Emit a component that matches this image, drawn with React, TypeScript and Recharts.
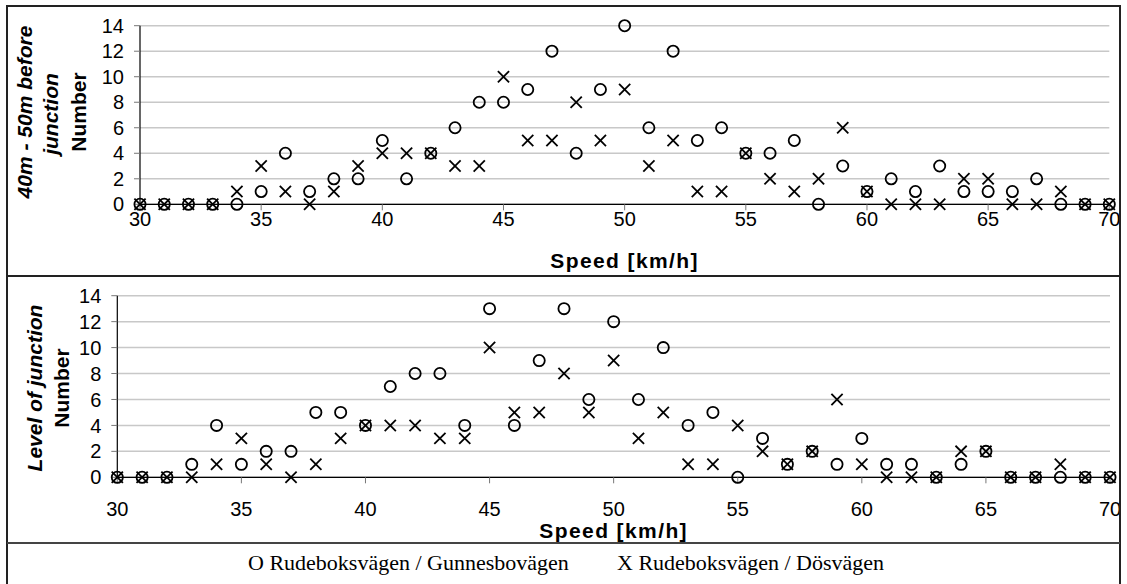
import { ScatterChart, Scatter, XAxis, YAxis, CartesianGrid } from "recharts"

const speeds = [
  30, 31, 32, 33, 34, 35, 36, 37, 38, 39, 40, 41, 42, 43, 44, 45, 46, 47, 48, 49, 50,
  51, 52, 53, 54, 55, 56, 57, 58, 59, 60, 61, 62, 63, 64, 65, 66, 67, 68, 69, 70,
]
const speedTicks = [30, 35, 40, 45, 50, 55, 60, 65, 70]
const countTicks = [0, 2, 4, 6, 8, 10, 12, 14]

// 40m - 50m before junction
const beforeGunnesbo = [
  0, 0, 0, 0, 0, 1, 4, 1, 2, 2, 5, 2, 4, 6, 8, 8, 9, 12, 4, 9, 14,
  6, 12, 5, 6, 4, 4, 5, 0, 3, 1, 2, 1, 3, 1, 1, 1, 2, 0, 0, 0,
]
const beforeDos = [
  0, 0, 0, 0, 1, 3, 1, 0, 1, 3, 4, 4, 4, 3, 3, 10, 5, 5, 8, 5, 9,
  3, 5, 1, 1, 4, 2, 1, 2, 6, 1, 0, 0, 0, 2, 2, 0, 0, 1, 0, 0,
]

// level of junction
const levelGunnesbo = [
  0, 0, 0, 1, 4, 1, 2, 2, 5, 5, 4, 7, 8, 8, 4, 13, 4, 9, 13, 6, 12,
  6, 10, 4, 5, 0, 3, 1, 2, 1, 3, 1, 1, 0, 1, 2, 0, 0, 0, 0, 0,
]
const levelDos = [
  0, 0, 0, 0, 1, 3, 1, 0, 1, 3, 4, 4, 4, 3, 3, 10, 5, 5, 8, 5, 9,
  3, 5, 1, 1, 4, 2, 1, 2, 6, 1, 0, 0, 0, 2, 2, 0, 0, 1, 0, 0,
]

const toPoints = (counts: number[]) => speeds.map((speed, i) => ({ speed, count: counts[i] }))

const sans = "'Liberation Sans', Arial, sans-serif"
const serif = "'Liberation Serif', 'Times New Roman', serif"

const tickStyle = { fill: "#000", fontSize: 20, fontFamily: sans }

function RingMark(props: any) {
  const { cx, cy } = props
  return <circle cx={cx} cy={cy} r={5.6} fill="none" stroke="#000" strokeWidth={1.8} />
}

function CrossMark(props: any) {
  const { cx, cy } = props
  const s = 5.6
  return (
    <g stroke="#000" strokeWidth={1.8}>
      <line x1={cx - s} y1={cy - s} x2={cx + s} y2={cy + s} />
      <line x1={cx - s} y1={cy + s} x2={cx + s} y2={cy - s} />
    </g>
  )
}

type PanelProps = {
  top: number
  height: number
  margin: { top: number; right: number; bottom: number; left: number }
  circles: number[]
  crosses: number[]
  xTickMargin: number
}

// axis band sizes; margins below are given for the plot edges and reduced by these
const Y_AXIS_W = 60
const X_AXIS_H = 30

function Panel({ top, height, margin, circles, crosses, xTickMargin }: PanelProps) {
  const m = {
    top: margin.top,
    right: margin.right,
    bottom: margin.bottom - X_AXIS_H,
    left: margin.left - Y_AXIS_W,
  }
  return (
    <div style={{ position: "absolute", left: 0, top }}>
      <ScatterChart width={1127} height={height} margin={m}>
        <CartesianGrid vertical={false} stroke="#c8c8c8" strokeWidth={1.5} />
        <XAxis
          type="number"
          dataKey="speed"
          domain={[30, 70]}
          ticks={speedTicks}
          interval={0}
          height={X_AXIS_H}
          tickSize={6}
          tickMargin={xTickMargin}
          tick={tickStyle}
          axisLine={{ stroke: "#000", strokeWidth: 1.2 }}
          tickLine={{ stroke: "#777" }}
        />
        <YAxis
          type="number"
          dataKey="count"
          domain={[0, 14]}
          ticks={countTicks}
          interval={0}
          width={Y_AXIS_W}
          tickSize={6}
          tickMargin={10}
          tick={tickStyle}
          axisLine={{ stroke: "#000", strokeWidth: 1.2 }}
          tickLine={{ stroke: "#777" }}
        />
        <Scatter data={toPoints(circles)} shape={RingMark} isAnimationActive={false} />
        <Scatter data={toPoints(crosses)} shape={CrossMark} isAnimationActive={false} />
      </ScatterChart>
    </div>
  )
}

const titleBold = { fontFamily: sans, fontWeight: 700, fontSize: 21, fill: "#000" } as const

export default function App() {
  return (
    <div style={{ position: "absolute", left: 0, top: 0, width: 1127, height: 584, background: "#fff", overflow: "hidden" }}>
      <Panel
        top={0}
        height={276}
        margin={{ top: 25.7, right: 17.7, bottom: 71.7, left: 140 }}
        circles={beforeGunnesbo}
        crosses={beforeDos}
        xTickMargin={1}
      />
      <Panel
        top={276}
        height={308}
        margin={{ top: 19.7, right: 17, bottom: 106.7, left: 117.3 }}
        circles={levelGunnesbo}
        crosses={levelDos}
        xTickMargin={18}
      />

      <svg width={1127} height={584} style={{ position: "absolute", left: 0, top: 0, pointerEvents: "none" }}>
        {/* frame and panel dividers */}
        <rect x={7} y={6} width={1113} height={640} fill="none" stroke="#222" strokeWidth={2} />
        <line x1={7} y1={276} x2={1120} y2={276} stroke="#222" strokeWidth={2} />
        <line x1={7} y1={543} x2={1120} y2={543} stroke="#444" strokeWidth={2} />

        {/* top panel titles */}
        <text transform="translate(32,112) rotate(-90)" textAnchor="middle" {...titleBold} fontStyle="italic">
          40m - 50m before
        </text>
        <text transform="translate(58,114) rotate(-90)" textAnchor="middle" {...titleBold} fontStyle="italic">
          junction
        </text>
        <text transform="translate(86,112) rotate(-90)" textAnchor="middle" {...titleBold}>
          Number
        </text>
        <text x={624.6} y={268} textAnchor="middle" {...titleBold} letterSpacing={1.4}>
          Speed [km/h]
        </text>

        {/* bottom panel titles */}
        <text transform="translate(42,388) rotate(-90)" textAnchor="middle" {...titleBold} fontStyle="italic">
          Level of junction
        </text>
        <text transform="translate(69,388) rotate(-90)" textAnchor="middle" {...titleBold}>
          Number
        </text>
        <text x={613.7} y={538} textAnchor="middle" {...titleBold} letterSpacing={1.4}>
          Speed [km/h]
        </text>

        {/* legend */}
        <text x={248} y={570} fontFamily={serif} fontSize={22} fill="#000">
          O Rudeboksvägen / Gunnesbovägen
        </text>
        <text x={617} y={570} fontFamily={serif} fontSize={22} fill="#000">
          X Rudeboksvägen / Dösvägen
        </text>
      </svg>
    </div>
  )
}
